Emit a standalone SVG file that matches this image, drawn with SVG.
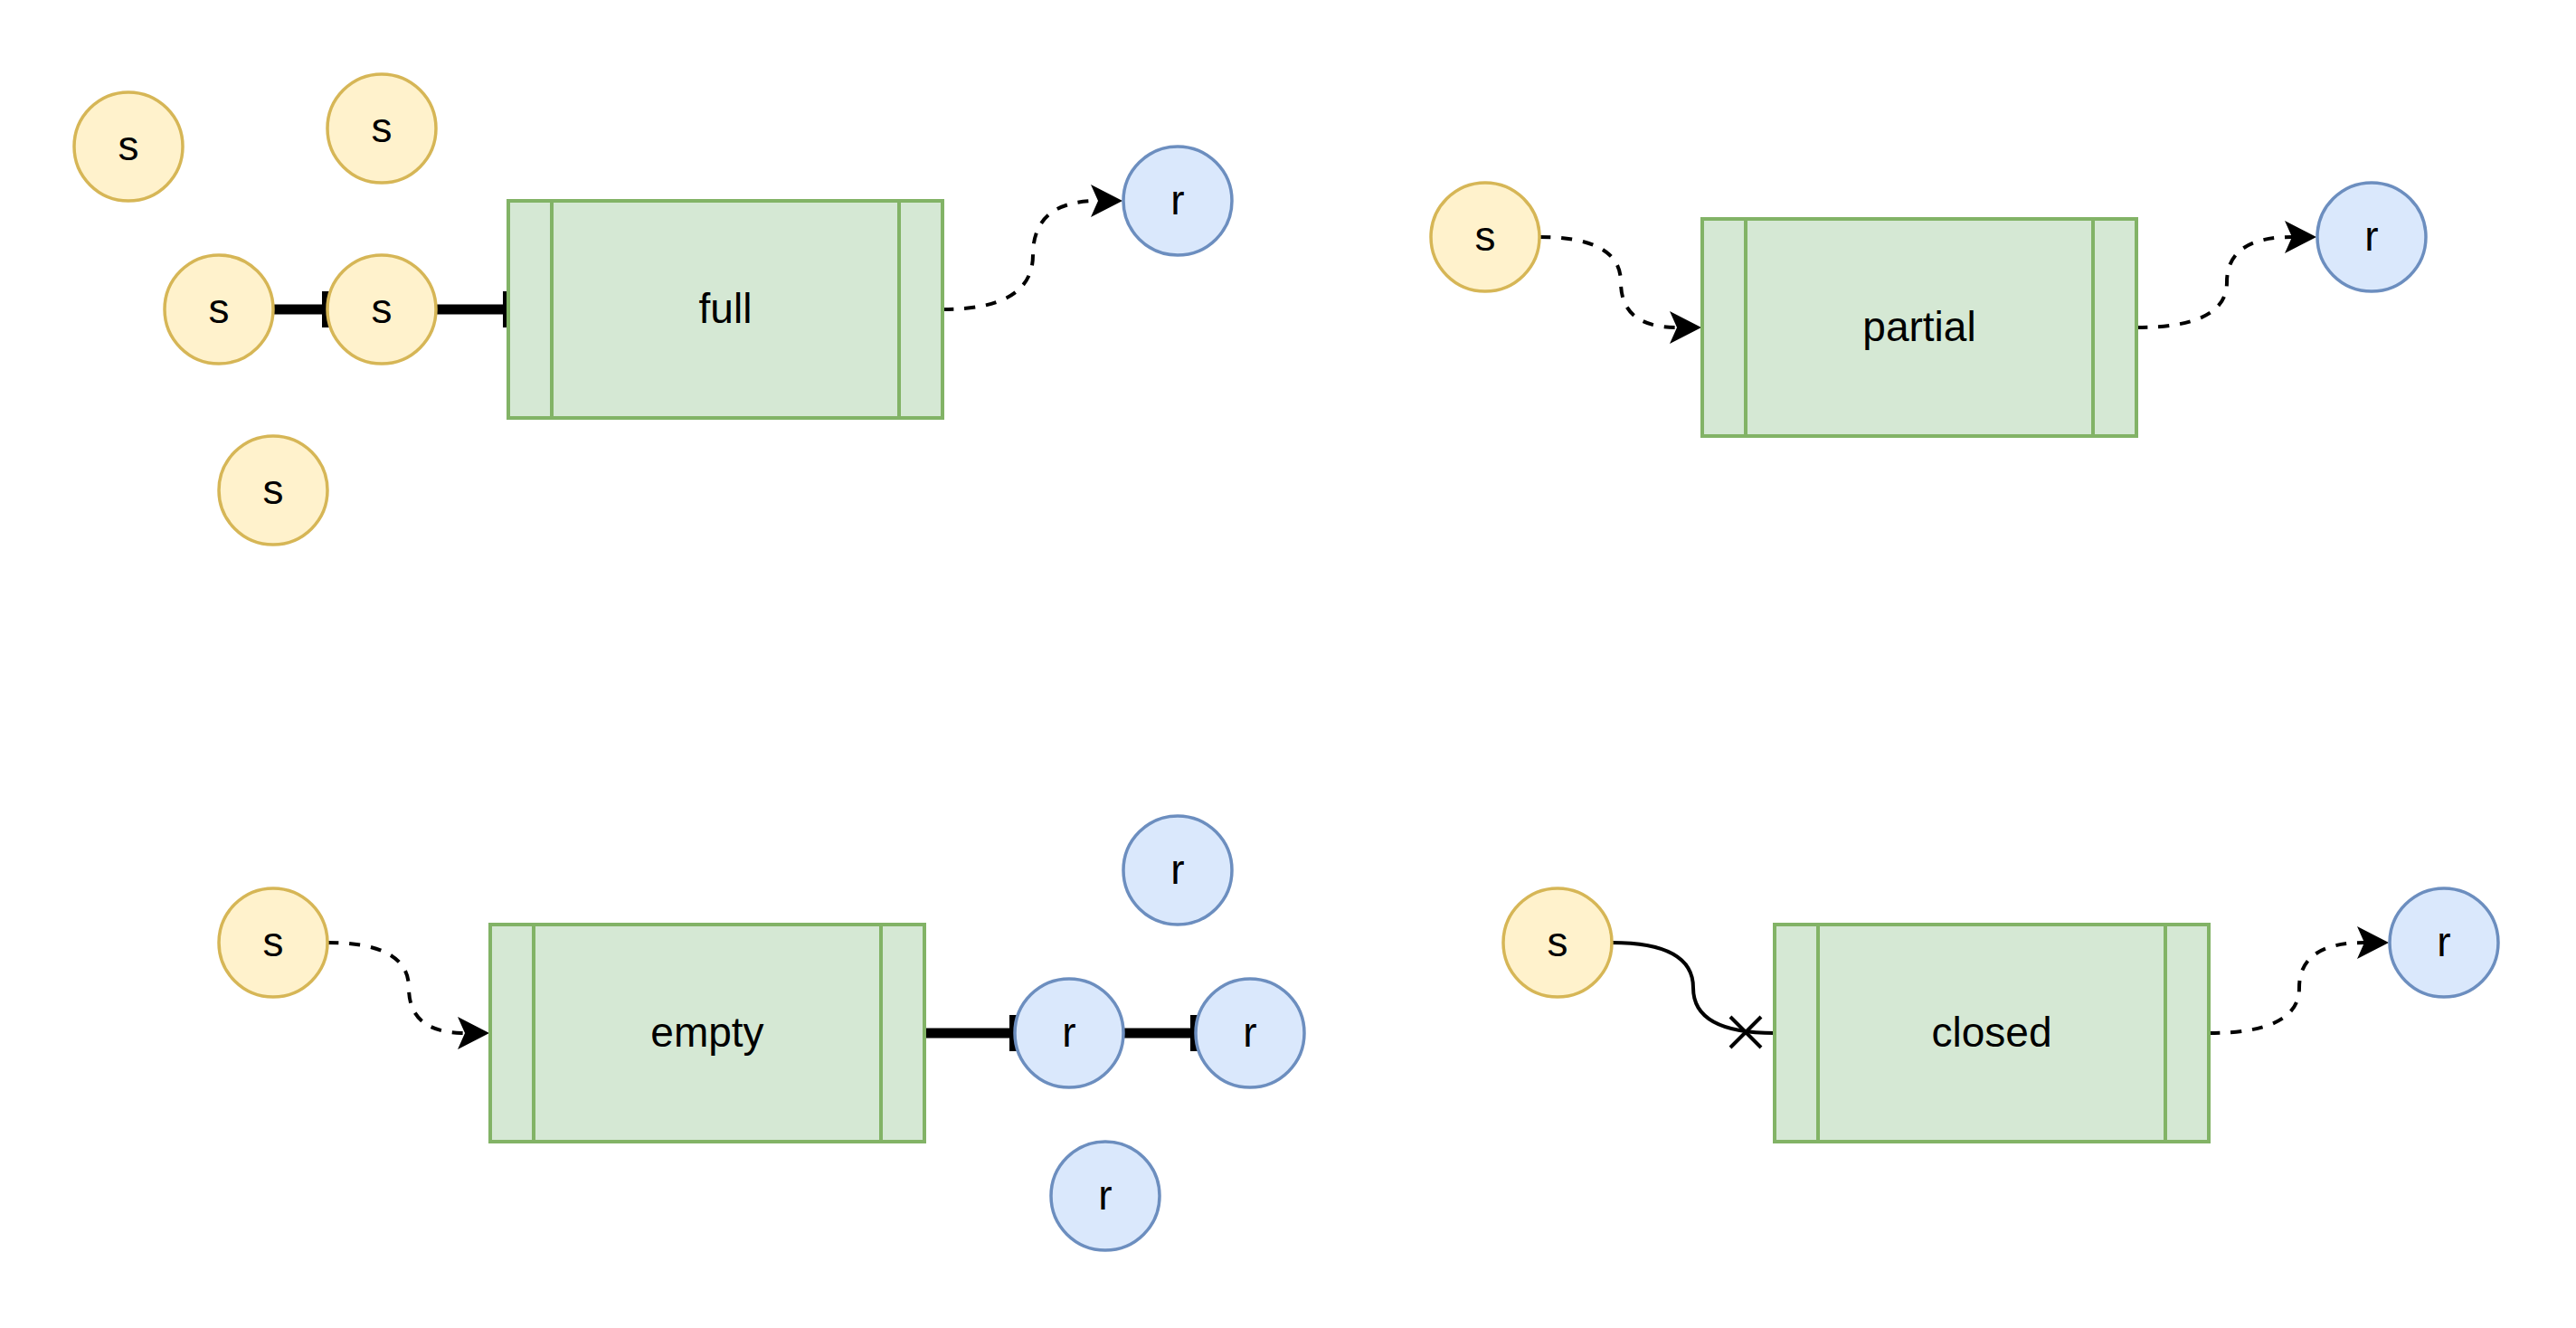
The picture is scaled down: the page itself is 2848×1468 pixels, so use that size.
<svg xmlns="http://www.w3.org/2000/svg" width="2848" height="1468" viewBox="0 0 2848 1468">
<style>
.s{fill:#fff2cc;stroke:#d6b656;stroke-width:3.5}
.r{fill:#dae8fc;stroke:#6c8ebf;stroke-width:3.5}
.box{fill:#d5e8d4;stroke:#82b366;stroke-width:4}
.in{stroke:#82b366;stroke-width:4;fill:none}
text{font-family:"Liberation Sans",Arial,Helvetica,sans-serif;font-size:46px;fill:#000;text-anchor:middle}
.dash{fill:none;stroke:#000;stroke-width:4;stroke-dasharray:12 12;marker-end:url(#arrow)}
.thick{fill:none;stroke:#000;stroke-width:11;marker-end:url(#bar)}
.solid{fill:none;stroke:#000;stroke-width:4}
</style>
<defs>
<marker id="arrow" markerUnits="userSpaceOnUse" markerWidth="40" markerHeight="40" refX="8" refY="18" orient="auto">
<path d="M0,0 L35,18 L0,36 L8,18 Z" fill="#000" stroke="none"/>
</marker>
<marker id="bar" markerUnits="userSpaceOnUse" markerWidth="12" markerHeight="40" refX="6" refY="20" orient="auto">
<rect x="0" y="0" width="12" height="40" fill="#000"/>
</marker>
</defs>
<rect width="2848" height="1468" fill="#fff"/>
<g id="connectors">
<line class="thick" x1="302" y1="342" x2="362" y2="342"/>
<line class="thick" x1="482" y1="342" x2="562" y2="342"/>
<path class="dash" d="M1042 342 Q1142 342 1142 282 Q1142 222 1214 222"/>
<path class="dash" d="M1702 262 Q1792 262 1792 312 Q1792 362 1854 362"/>
<path class="dash" d="M2362 362 Q2462 362 2462 312 Q2462 262 2534 262"/>
<path class="dash" d="M362 1042 Q452 1042 452 1092 Q452 1142 514 1142"/>
<line class="thick" x1="1022" y1="1142" x2="1122" y2="1142"/>
<line class="thick" x1="1242" y1="1142" x2="1322" y2="1142"/>
<path class="solid" d="M1782 1042 Q1872 1042 1872 1092 Q1872 1142 1962 1142"/>
<path class="solid" d="M1913 1124 L1947 1158 M1913 1158 L1947 1124"/>
<path class="dash" d="M2442 1142 Q2542 1142 2542 1092 Q2542 1042 2614 1042"/>
</g>
<g id="full-s1"><circle class="s" cx="142" cy="162" r="60"/><text x="142" y="177">s</text></g>
<g id="full-s2"><circle class="s" cx="422" cy="142" r="60"/><text x="422" y="157">s</text></g>
<g id="full-s3"><circle class="s" cx="242" cy="342" r="60"/><text x="242" y="357">s</text></g>
<g id="full-s4"><circle class="s" cx="422" cy="342" r="60"/><text x="422" y="357">s</text></g>
<g id="full-s5"><circle class="s" cx="302" cy="542" r="60"/><text x="302" y="557">s</text></g>
<g id="full"><rect class="box" x="562" y="222" width="480" height="240"/><line class="in" x1="610" y1="222" x2="610" y2="462"/><line class="in" x1="994" y1="222" x2="994" y2="462"/><text x="802" y="357">full</text></g>
<g id="full-r"><circle class="r" cx="1302" cy="222" r="60"/><text x="1302" y="237">r</text></g>
<g id="partial-s"><circle class="s" cx="1642" cy="262" r="60"/><text x="1642" y="277">s</text></g>
<g id="partial"><rect class="box" x="1882" y="242" width="480" height="240"/><line class="in" x1="1930" y1="242" x2="1930" y2="482"/><line class="in" x1="2314" y1="242" x2="2314" y2="482"/><text x="2122" y="377">partial</text></g>
<g id="partial-r"><circle class="r" cx="2622" cy="262" r="60"/><text x="2622" y="277">r</text></g>
<g id="empty-s"><circle class="s" cx="302" cy="1042" r="60"/><text x="302" y="1057">s</text></g>
<g id="empty"><rect class="box" x="542" y="1022" width="480" height="240"/><line class="in" x1="590" y1="1022" x2="590" y2="1262"/><line class="in" x1="974" y1="1022" x2="974" y2="1262"/><text x="782" y="1157">empty</text></g>
<g id="empty-r1"><circle class="r" cx="1302" cy="962" r="60"/><text x="1302" y="977">r</text></g>
<g id="empty-r2"><circle class="r" cx="1182" cy="1142" r="60"/><text x="1182" y="1157">r</text></g>
<g id="empty-r3"><circle class="r" cx="1382" cy="1142" r="60"/><text x="1382" y="1157">r</text></g>
<g id="empty-r4"><circle class="r" cx="1222" cy="1322" r="60"/><text x="1222" y="1337">r</text></g>
<g id="closed-s"><circle class="s" cx="1722" cy="1042" r="60"/><text x="1722" y="1057">s</text></g>
<g id="closed"><rect class="box" x="1962" y="1022" width="480" height="240"/><line class="in" x1="2010" y1="1022" x2="2010" y2="1262"/><line class="in" x1="2394" y1="1022" x2="2394" y2="1262"/><text x="2202" y="1157">closed</text></g>
<g id="closed-r"><circle class="r" cx="2702" cy="1042" r="60"/><text x="2702" y="1057">r</text></g>
</svg>
